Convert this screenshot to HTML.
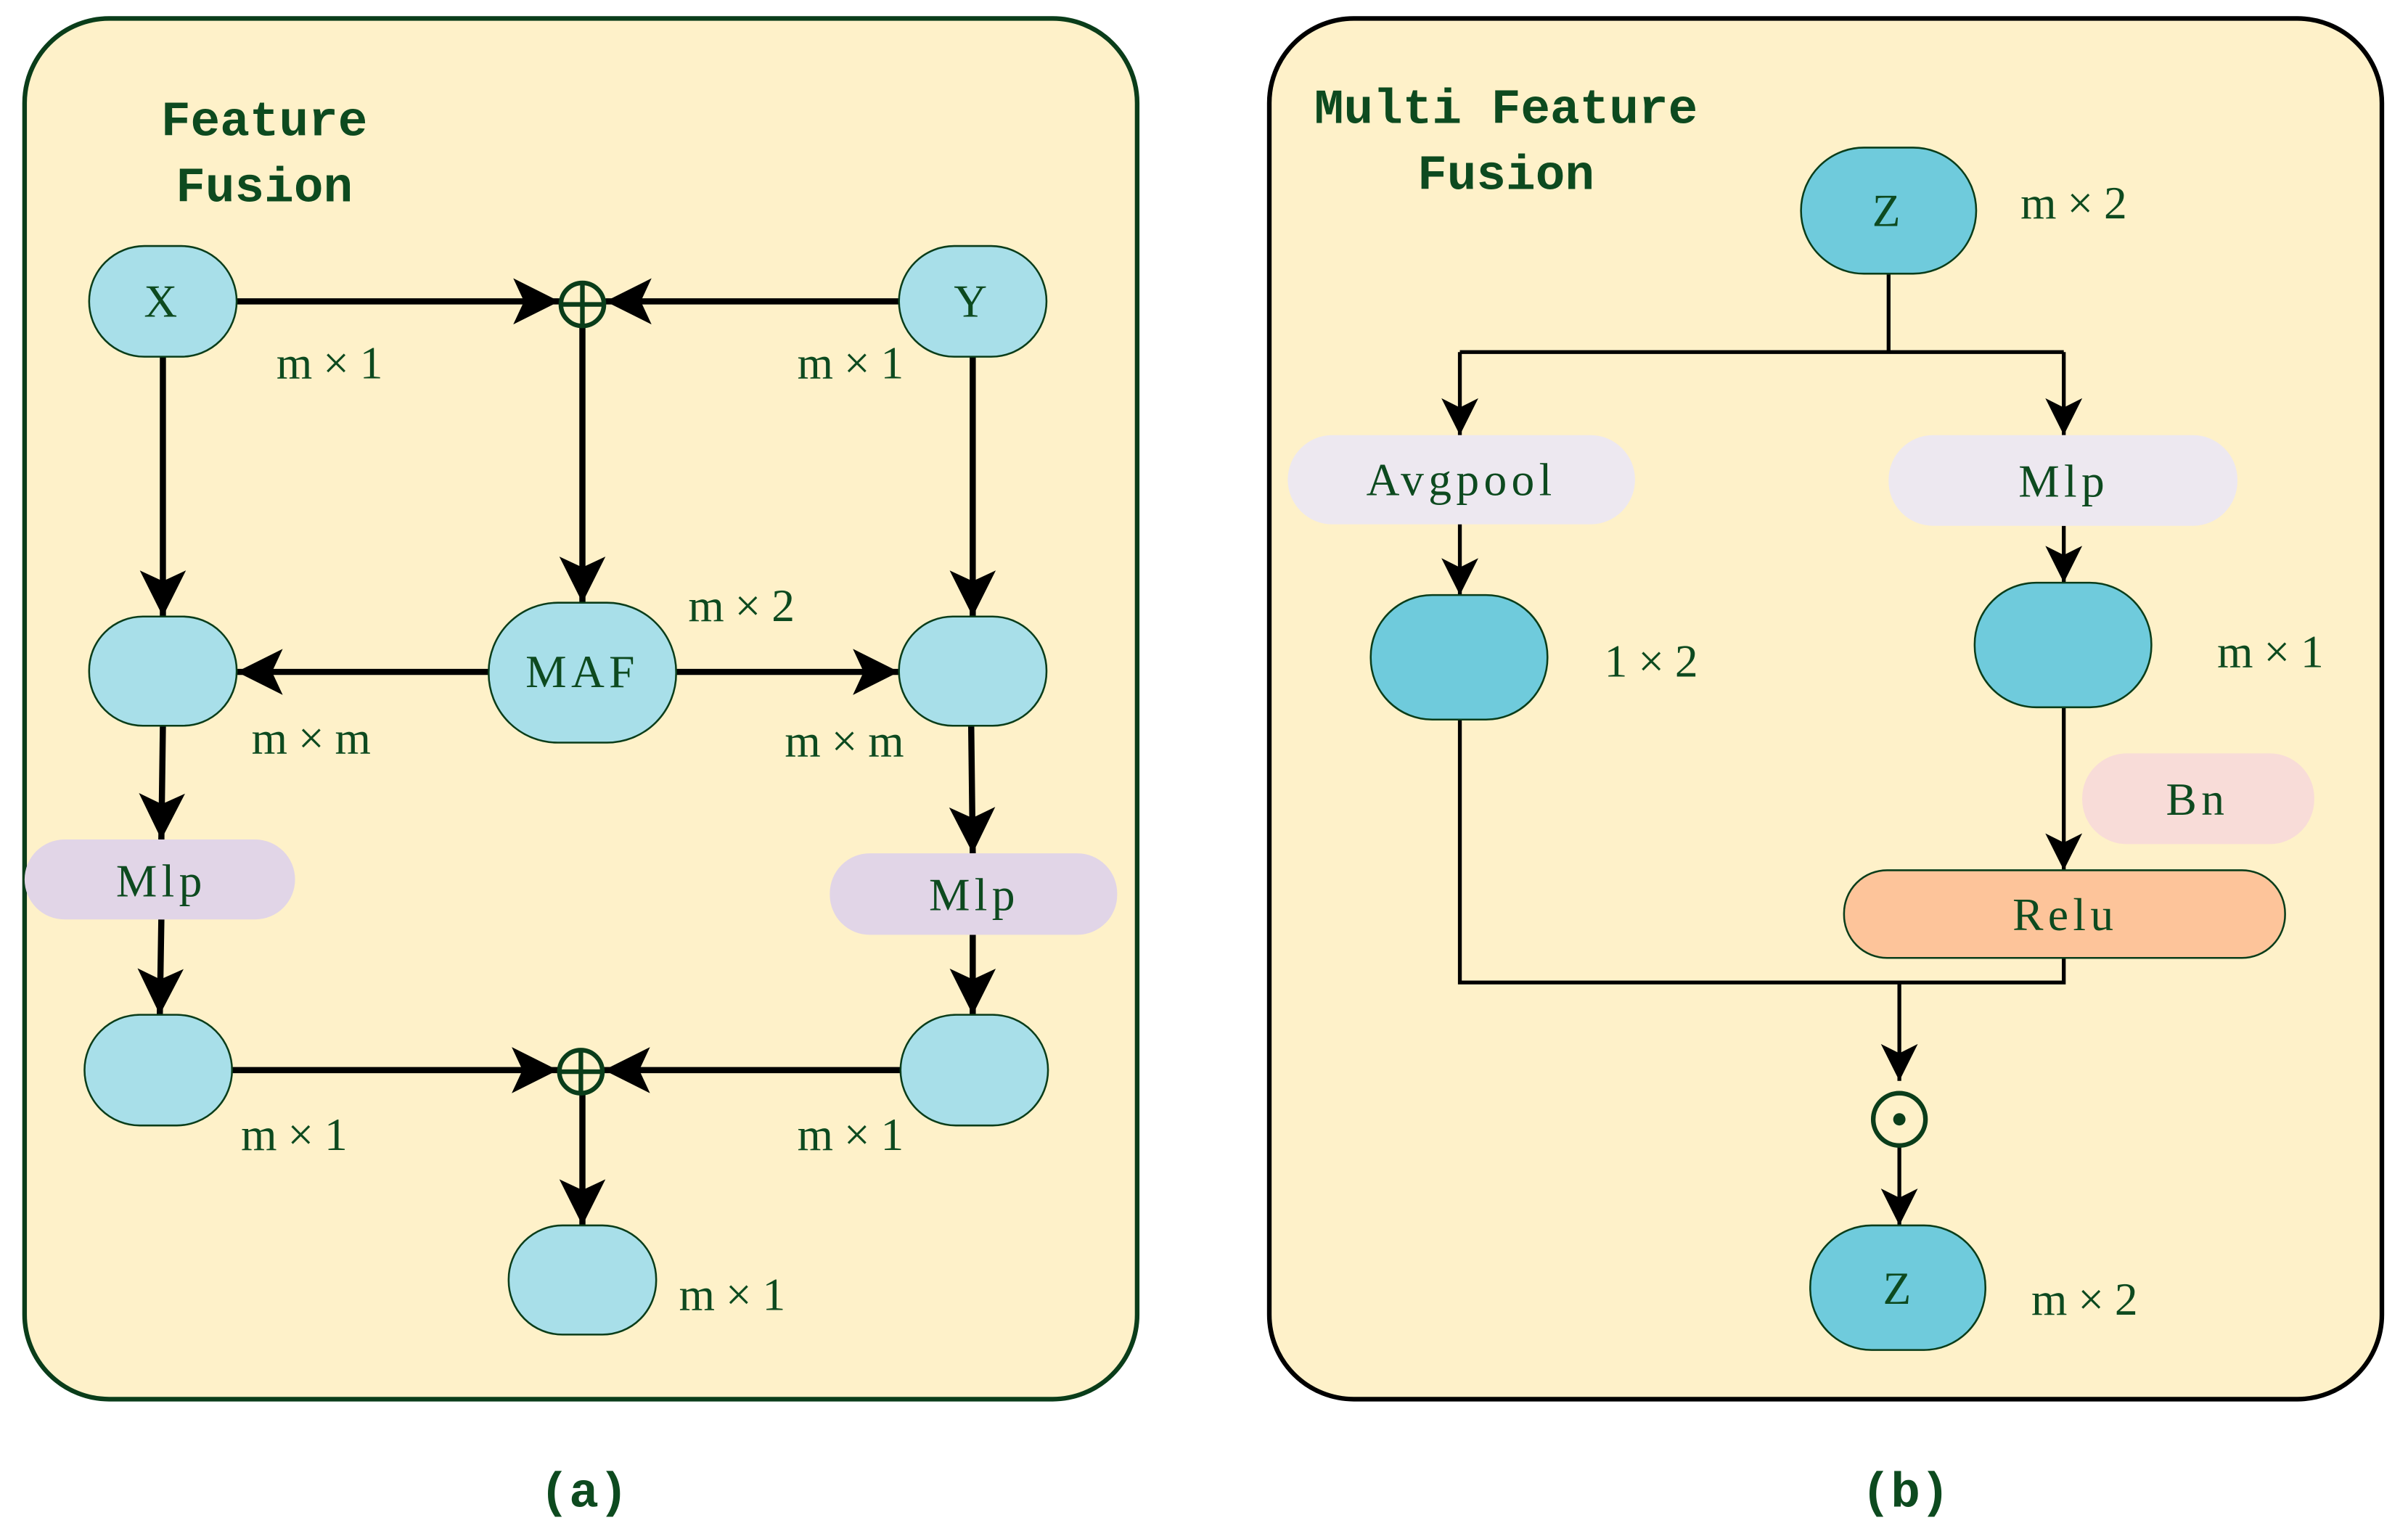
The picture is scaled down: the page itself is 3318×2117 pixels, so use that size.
<!DOCTYPE html>
<html><head><meta charset="utf-8"><style>html,body{margin:0;padding:0;background:#fff}svg{display:block}</style></head><body>
<svg width="3318" height="2117" viewBox="0 0 1567 999" preserveAspectRatio="none" xmlns="http://www.w3.org/2000/svg">
<defs>
<marker id="a" markerUnits="userSpaceOnUse" markerWidth="32" markerHeight="32" refX="30" refY="15" orient="auto"><path d="M0,0 L30,15 L0,30 L7,15 z" fill="#000"/></marker>
<marker id="b" markerUnits="userSpaceOnUse" markerWidth="26" markerHeight="26" refX="24" refY="12" orient="auto"><path d="M0,0 L24,12 L0,24 L6,12 z" fill="#000"/></marker>
</defs>
<g font-family="Liberation Serif, serif" fill="#0d4a1f">
<rect x="16" y="12" width="724" height="898" rx="55" fill="#fef1c9" stroke="#0a3d1a" stroke-width="3"/>
<rect x="826" y="12" width="724" height="898" rx="55" fill="#fef1c9" stroke="#000" stroke-width="3"/>

<g stroke="#000" stroke-width="4" fill="none">
<line x1="154" y1="196" x2="364" y2="196" marker-end="url(#a)"/>
<line x1="585" y1="196" x2="394" y2="196" marker-end="url(#a)"/>
<line x1="379" y1="213" x2="379" y2="392" marker-end="url(#a)"/>
<line x1="106" y1="232" x2="106" y2="401" marker-end="url(#a)"/>
<line x1="633" y1="232" x2="633" y2="401" marker-end="url(#a)"/>
<line x1="318" y1="437" x2="154" y2="437" marker-end="url(#a)"/>
<line x1="440" y1="437" x2="585" y2="437" marker-end="url(#a)"/>
<line x1="106" y1="472" x2="105" y2="546" marker-end="url(#a)"/>
<line x1="632" y1="472" x2="633" y2="555" marker-end="url(#a)"/>
<line x1="105" y1="598" x2="104" y2="660" marker-end="url(#a)"/>
<line x1="633" y1="608" x2="633" y2="660" marker-end="url(#a)"/>
<line x1="151" y1="696" x2="363" y2="696" marker-end="url(#a)"/>
<line x1="586" y1="696" x2="393" y2="696" marker-end="url(#a)"/>
<line x1="379" y1="712" x2="379" y2="797" marker-end="url(#a)"/>
</g>
<g fill="#a8dfe9" stroke="#0a3d1a" stroke-width="1.2">
<rect x="58" y="160" width="96" height="72" rx="36"/>
<rect x="585" y="160" width="96" height="72" rx="36"/>
<rect x="58" y="401" width="96" height="71" rx="35"/>
<rect x="318" y="392" width="122" height="91" rx="45"/>
<rect x="585" y="401" width="96" height="71" rx="35"/>
<rect x="55" y="660" width="96" height="72" rx="36"/>
<rect x="586" y="660" width="96" height="72" rx="36"/>
<rect x="331" y="797" width="96" height="71" rx="35"/>
</g>
<rect x="16" y="546" width="176" height="52" rx="26" fill="#e1d5e7"/>
<rect x="540" y="555" width="187" height="53" rx="26" fill="#e1d5e7"/>
<g fill="none" stroke="#0a3d1a" stroke-width="3">
<circle cx="379" cy="198" r="14"/><line x1="365" y1="198" x2="393" y2="198"/><line x1="379" y1="184" x2="379" y2="212"/>
<circle cx="378" cy="697" r="14"/><line x1="364" y1="697" x2="392" y2="697"/><line x1="378" y1="683" x2="378" y2="711"/>
</g>
<g font-size="30" text-anchor="middle" letter-spacing="3">
<text x="106" y="206">X</text><text x="633" y="206">Y</text><text x="379" y="447">MAF</text>
<text x="105" y="583">Mlp</text><text x="634" y="592">Mlp</text>
</g>
<g font-size="30" text-anchor="middle" letter-spacing="7">
<text x="218" y="246">m×1</text><text x="557" y="246">m×1</text>
<text x="486" y="404">m×2</text><text x="206" y="490">m×m</text><text x="553" y="492">m×m</text>
<text x="195" y="748">m×1</text><text x="557" y="748">m×1</text><text x="480" y="852">m×1</text>
</g>
<g font-family="Liberation Mono, monospace" font-weight="bold" font-size="32" text-anchor="middle">
<text x="172" y="88">Feature</text><text x="172" y="131">Fusion</text>
<text x="980" y="80">Multi Feature</text><text x="980" y="123">Fusion</text>
<text x="380" y="980">(a)</text><text x="1240" y="980">(b)</text>
</g>

<g stroke="#000" stroke-width="2.5" fill="none">
<polyline points="1229,178 1229,229"/>
<polyline points="950,229 1343,229"/>
<line x1="950" y1="229" x2="950" y2="283" marker-end="url(#b)"/>
<line x1="1343" y1="229" x2="1343" y2="283" marker-end="url(#b)"/>
<line x1="950" y1="341" x2="950" y2="387" marker-end="url(#b)"/>
<line x1="1343" y1="342" x2="1343" y2="379" marker-end="url(#b)"/>
<line x1="1343" y1="460" x2="1343" y2="566" marker-end="url(#b)"/>
<polyline points="950,468 950,639 1343,639 1343,623"/>
<line x1="1236" y1="639" x2="1236" y2="703" marker-end="url(#b)"/>
<line x1="1236" y1="746" x2="1236" y2="797" marker-end="url(#b)"/>
</g>
<g fill="#6fcbdc" stroke="#0a3d1a" stroke-width="1.2">
<rect x="1172" y="96" width="114" height="82" rx="41"/>
<rect x="892" y="387" width="115" height="81" rx="40"/>
<rect x="1285" y="379" width="115" height="81" rx="40"/>
<rect x="1178" y="797" width="114" height="81" rx="40"/>
</g>
<rect x="838" y="283" width="226" height="58" rx="29" fill="#ede8f0"/>
<rect x="1229" y="283" width="227" height="59" rx="29" fill="#ede8f0"/>
<rect x="1355" y="490" width="151" height="59" rx="29" fill="#f8dcd8"/>
<rect x="1200" y="566" width="287" height="57" rx="28" fill="#fdc49a" stroke="#0a3d1a" stroke-width="1.2"/>
<circle cx="1236" cy="728" r="17" fill="none" stroke="#0a3d1a" stroke-width="3"/>
<circle cx="1236" cy="728" r="4" fill="#0a3d1a"/>
<g font-size="30" text-anchor="middle" letter-spacing="3">
<text x="1229" y="147">Z</text><text x="1236" y="848">Z</text>
<text x="951" y="322">Avgpool</text><text x="1343" y="323">Mlp</text>
<text x="1430" y="530">Bn</text><text x="1344" y="605">Relu</text>
</g>
<g font-size="30" text-anchor="middle" letter-spacing="7">
<text x="1353" y="142">m×2</text><text x="1078" y="440">1×2</text>
<text x="1481" y="434">m×1</text><text x="1360" y="855">m×2</text>
</g>
</g>
</svg>
</body></html>
